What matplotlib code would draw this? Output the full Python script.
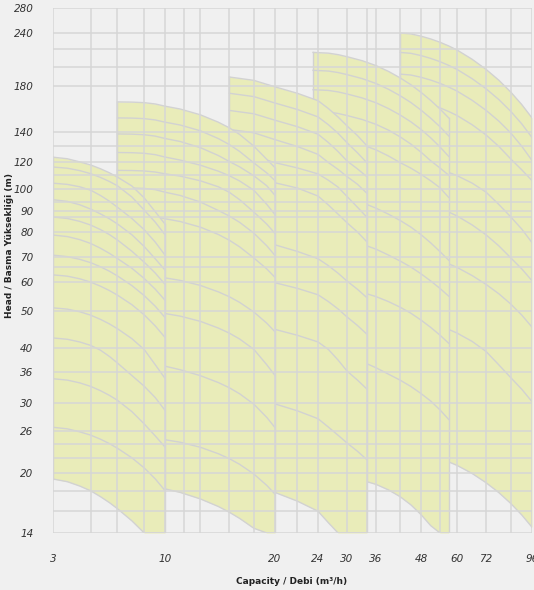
import matplotlib
matplotlib.use("Agg")
import matplotlib.pyplot as plt
from matplotlib.ticker import NullFormatter
import numpy as np

# axis ticks
x_ticks = [3, 10, 20, 24, 30, 36, 48, 60, 72, 96]
x_minor = [4.5, 6, 8, 11.25, 12.5, 15, 17.5, 22, 34, 42, 54, 84]
y_ticks = [14, 20, 26, 30, 36, 40, 50, 60, 70, 80, 90, 100, 120, 140, 180, 240, 280]
y_minor = [16, 18, 22, 24, 66, 87, 94, 110, 130, 200, 220]

# pump families: flow points (m3/h), head ratio along the curve,
# ratio for the smallest curve, shut-off head of every curve (m)
g1_q = [3, 3.5, 4, 4.5, 5, 5.5, 6, 7, 8, 9, 10]
g1_shape = [1, 0.992, 0.976, 0.956, 0.932, 0.907, 0.881, 0.830, 0.779, 0.729, 0.68]
g1_low = [1, 0.984, 0.959, 0.932, 0.900, 0.869, 0.838, 0.780, 0.723, 0.671, 0.62]
g1_heads = [19.3, 26.5, 34.6, 42.5, 51, 62.7, 70.7, 78.7, 87, 95, 104, 116, 123]

g2_q = [6, 7, 8, 9, 10, 11, 12.5, 14, 15, 16, 17.5, 19, 20]
g2_shape = [1, 0.999, 0.996, 0.989, 0.977, 0.962, 0.932, 0.895, 0.868, 0.838, 0.789, 0.737, 0.70]
g2_low = [1, 0.998, 0.991, 0.979, 0.963, 0.943, 0.907, 0.867, 0.838, 0.808, 0.762, 0.713, 0.68]
g2_heads = [18.9, 25.2, 37.8, 50.4, 63, 88.2, 100.8, 113.4, 126, 138.6, 151.2, 165]

g3_q = [15, 17.5, 20, 22, 24, 26, 28, 30, 32, 34]
g3_shape = [1, 0.982, 0.948, 0.915, 0.879, 0.842, 0.804, 0.766, 0.728, 0.69]
g3_low = [1, 0.976, 0.928, 0.881, 0.830, 0.775, 0.720, 0.663, 0.607, 0.55]
g3_heads = [19.2, 31.5, 47.2, 63, 78.8, 110, 126, 142, 157.5, 173, 189]

g4_q = [23.5, 26, 28, 30, 33, 36, 39, 42, 45, 48, 51, 54, 57]
g4_shape = [1, 0.996, 0.988, 0.977, 0.956, 0.931, 0.902, 0.871, 0.839, 0.805, 0.770, 0.735, 0.70]
g4_low = [1, 0.999, 0.995, 0.989, 0.972, 0.949, 0.918, 0.882, 0.840, 0.793, 0.742, 0.688, 0.63]
g4_heads = [19.7, 39.4, 58.8, 78.4, 98, 137.2, 156.8, 176.4, 196, 216]

g5_q = [42, 45, 48, 51, 54, 57, 60, 66, 72, 78, 84, 90, 96]
g5_shape = [1, 0.995, 0.983, 0.968, 0.951, 0.932, 0.912, 0.867, 0.821, 0.774, 0.726, 0.678, 0.63]
g5_low = g5_shape
g5_heads = [23, 48, 72, 96, 120, 168, 192, 216, 240]

BG = "#f0f0f0"
FILL = "#e9ecb9"
GRID = "#d6d6d6"
CURVE = "#d2d2d2"

# the printed chart uses a stretched log scale, so ticks are pinned to fixed spots
x_pix = np.array([53, 165, 275, 318, 347, 376, 421, 457, 486, 532], float)
y_pix = -np.array([533, 473, 431, 403, 372, 348, 311, 282, 257, 232, 211, 189, 162, 132, 86, 33, 8], float)
XL = np.log10(x_ticks)
YL = np.log10(y_ticks)


def fx(v):
    return np.interp(np.log10(np.maximum(np.asarray(v, float), 1e-6)), XL, x_pix)


def ix(p):
    return 10 ** np.interp(np.asarray(p, float), x_pix, XL)


def fy(v):
    return np.interp(np.log10(np.maximum(np.asarray(v, float), 1e-6)), YL, y_pix)


def iy(p):
    return 10 ** np.interp(np.asarray(p, float), y_pix, YL)


fig = plt.figure(figsize=(5.34, 5.90), dpi=100, facecolor=BG)
ax = fig.add_axes([53 / 534, 57 / 590, 479 / 534, 525 / 590])
ax.set_facecolor(BG)
ax.set_xscale("function", functions=(fx, ix))
ax.set_yscale("function", functions=(fy, iy))

# later families sit underneath the earlier ones
groups = [
    (g5_q, g5_shape, g5_low, g5_heads),
    (g4_q, g4_shape, g4_low, g4_heads),
    (g3_q, g3_shape, g3_low, g3_heads),
    (g2_q, g2_shape, g2_low, g2_heads),
    (g1_q, g1_shape, g1_low, g1_heads),
]
for k, (q, shape, low, heads) in enumerate(groups):
    z = 1 + k * 0.1
    q = np.array(q, float)
    shape = np.array(shape)
    low = np.array(low)
    top = heads[-1] * shape
    bottom = heads[0] * low
    ax.fill_between(q, bottom, top, color=FILL, lw=0, zorder=z)
    for h in heads[1:]:
        ax.plot(q, h * shape, color=CURVE, lw=1, zorder=z + 0.05)
    ax.plot(q, bottom, color=CURVE, lw=1, zorder=z + 0.05)
    ax.plot([q[0], q[0]], [bottom[0], top[0]], color=CURVE, lw=1, zorder=z + 0.05)
    ax.plot([q[-1], q[-1]], [bottom[-1], top[-1]], color=CURVE, lw=1, zorder=z + 0.05)

ax.set_xlim(3, 96)
ax.set_ylim(14, 280)
ax.set_xticks(x_ticks)
ax.set_xticks(x_minor, minor=True)
ax.set_yticks(y_ticks)
ax.set_yticks(y_minor, minor=True)
ax.set_xticklabels([str(v) for v in x_ticks])
ax.set_yticklabels([str(v) for v in y_ticks])
ax.xaxis.set_minor_formatter(NullFormatter())
ax.yaxis.set_minor_formatter(NullFormatter())
ax.set_axisbelow(False)
ax.grid(True, which="both", color=GRID, lw=1.1)
ax.tick_params(which="both", length=0, labelsize=7.5, colors="#333333")
ax.tick_params(axis="x", pad=15)
ax.tick_params(axis="y", pad=14)
for lab in ax.get_xticklabels() + ax.get_yticklabels():
    lab.set_fontstyle("italic")
for s in ax.spines.values():
    s.set_visible(False)

fig.text(292 / 534, 1 - 582 / 590, "Capacity / Debi (m³/h)", ha="center", va="center",
         fontsize=6.5, fontweight="bold", color="#222222")
fig.text(10 / 534, 1 - 245 / 590, "Head / Basma Yüksekliği (m)", ha="center", va="center",
         rotation=90, fontsize=6.5, fontweight="bold", color="#222222")

fig.savefig("out.png", dpi=100, facecolor=BG)
